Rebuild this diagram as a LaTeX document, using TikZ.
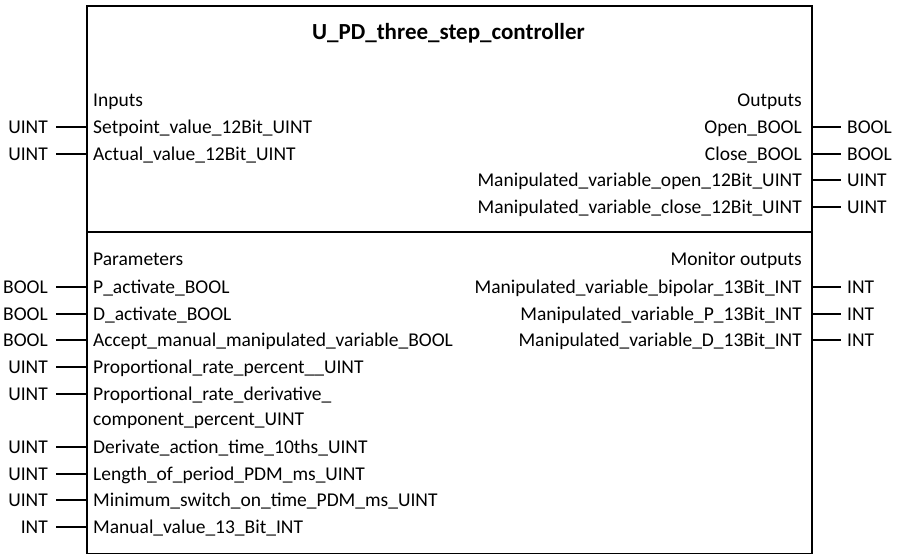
\documentclass[tikz,border=0pt]{standalone}
\usepackage{fontspec}
\setmainfont{Carlito}
\begin{document}
\begin{tikzpicture}[x=1pt,y=-1pt,
  txt/.style={inner sep=0pt, font=\fontsize{19.5}{23}\selectfont},
  ttl/.style={inner sep=0pt, font=\fontsize{23}{27}\selectfont\bfseries},
  pinline/.style={line width=2pt},
  frame/.style={draw, line width=2pt, inner sep=0pt}]
\useasboundingbox (0,0) rectangle (898,554);
\node[frame, minimum width=725pt, minimum height=548.5pt, anchor=north west] (box) at (86,4.5) {};
\coordinate (dl) at (86,232);
\coordinate (dr) at (811,232);
\draw[pinline] (dl) -- (dr);
\node[ttl, anchor=base] (title) at (448.5,39.3) {U\_PD\_three\_step\_controller};
% headers
\node[txt, anchor=base west] (hin) at (93,106.7) {Inputs};
\node[txt, anchor=base east] (hout) at (802,106.7) {Outputs};
\node[txt, anchor=base west] (hpar) at (93,265.7) {Parameters};
\node[txt, anchor=base east] (hmon) at (802,265.7) {Monitor outputs};
% left pins
\foreach \y/\t/\n [count=\i] in {
  133.3/UINT/Setpoint\_value\_12Bit\_UINT,
  160/UINT/Actual\_value\_12Bit\_UINT,
  293.3/BOOL/P\_activate\_BOOL,
  320/BOOL/D\_activate\_BOOL,
  346.7/BOOL/Accept\_manual\_manipulated\_variable\_BOOL,
  373.3/UINT/Proportional\_rate\_percent\_\_UINT,
  400/UINT/Proportional\_rate\_derivative\_,
  453.3/UINT/Derivate\_action\_time\_10ths\_UINT,
  480/UINT/Length\_of\_period\_PDM\_ms\_UINT,
  506.7/UINT/Minimum\_switch\_on\_time\_PDM\_ms\_UINT,
  533.3/INT/Manual\_value\_13\_Bit\_INT}{
  \node[txt, anchor=base west] (in\i) at (93,\y) {\n};
  \node[txt, anchor=base east] (tin\i) at (48,\y) {\t};
  \coordinate (pin\i) at (86,\y-6.5);
  \draw[pinline] (pin\i) -- ++(-30,0);
}
\node[txt, anchor=base west] (in7b) at (93,425.5) {component\_percent\_UINT};
% right pins
\foreach \y/\t/\n [count=\i] in {
  133.3/BOOL/Open\_BOOL,
  160/BOOL/Close\_BOOL,
  186.7/UINT/Manipulated\_variable\_open\_12Bit\_UINT,
  213.3/UINT/Manipulated\_variable\_close\_12Bit\_UINT,
  293.3/INT/Manipulated\_variable\_bipolar\_13Bit\_INT,
  320/INT/Manipulated\_variable\_P\_13Bit\_INT,
  346.7/INT/Manipulated\_variable\_D\_13Bit\_INT}{
  \node[txt, anchor=base east] (out\i) at (802,\y) {\n};
  \node[txt, anchor=base west] (tout\i) at (847,\y) {\t};
  \coordinate (pout\i) at (811,\y-6.5);
  \draw[pinline] (pout\i) -- ++(30,0);
}
\end{tikzpicture}
\end{document}
